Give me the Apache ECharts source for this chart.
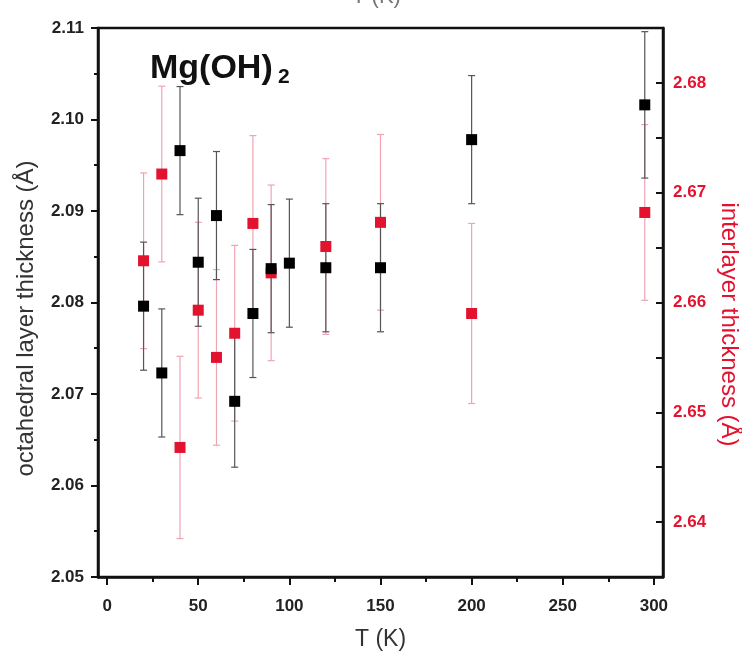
<!DOCTYPE html>
<html>
<head>
<meta charset="utf-8">
<script src="https://cdn.jsdelivr.net/npm/echarts@6/dist/echarts.min.js"></script>
<style>
html,body{margin:0;padding:0;background:#fff;}
#chart{width:742px;height:654px;}
</style>
</head>
<body>
<div id="chart"></div>
<script>
// ---- data ----
const octaT = [20, 30, 40, 50, 60, 70, 80, 90, 100, 120, 150, 200, 295];
const octaThickness = [2.0796, 2.0723, 2.0966, 2.0844, 2.0895, 2.0692, 2.0788, 2.0837, 2.0843, 2.0838, 2.0838, 2.0978, 2.1016];
const octaError = [0.007, 0.007, 0.007, 0.007, 0.007, 0.0072, 0.007, 0.007, 0.007, 0.007, 0.007, 0.007, 0.008];

const interT = [20, 30, 40, 50, 60, 70, 80, 90, 120, 150, 200, 295];
const interThickness = [2.6638, 2.6717, 2.6468, 2.6593, 2.655, 2.6572, 2.6672, 2.6627, 2.6651, 2.6673, 2.659, 2.6682];
const interError = [0.008, 0.008, 0.0083, 0.008, 0.008, 0.008, 0.008, 0.008, 0.008, 0.008, 0.0082, 0.008];

const xTickLabels = [0, 50, 100, 150, 200, 250, 300];
const xMinorTicks = [25, 75, 125, 175, 225, 275];
const leftTickLabels = [2.05, 2.06, 2.07, 2.08, 2.09, 2.10, 2.11];
const leftMinorTicks = [2.055, 2.065, 2.075, 2.085, 2.095, 2.105];
const rightTickLabels = [2.64, 2.65, 2.66, 2.67, 2.68];
const rightTicks = [2.64, 2.645, 2.65, 2.655, 2.66, 2.665, 2.67, 2.675, 2.68];

const FONT = 'Liberation Sans, Arial, sans-serif';
const RED = '#e3122f';

const chart = echarts.init(document.getElementById('chart'), null, {renderer: 'canvas'});

function errorSeries(name, xs, ys, errs, yAxisIndex, color) {
  return {
    name: name,
    type: 'custom',
    xAxisIndex: 0,
    yAxisIndex: yAxisIndex,
    clip: true,
    z: 2,
    silent: true,
    data: xs.map((x, i) => [x, ys[i] - errs[i], ys[i] + errs[i]]),
    encode: {x: 0, y: [1, 2]},
    renderItem: function (params, api) {
      const x = api.value(0);
      const lo = api.coord([x, api.value(1)]);
      const hi = api.coord([x, api.value(2)]);
      const w = 3.5;
      const st = {stroke: color, lineWidth: 1.2};
      return {
        type: 'group',
        children: [
          {type: 'line', shape: {x1: lo[0], y1: lo[1], x2: hi[0], y2: hi[1]}, style: st},
          {type: 'line', shape: {x1: lo[0] - w, y1: lo[1], x2: lo[0] + w, y2: lo[1]}, style: st},
          {type: 'line', shape: {x1: hi[0] - w, y1: hi[1], x2: hi[0] + w, y2: hi[1]}, style: st}
        ]
      };
    }
  };
}

const option = {
  backgroundColor: '#fff',
  animation: false,
  grid: {left: 98, right: 79, top: 28, bottom: 77, containLabel: false, outerBoundsMode: 'none',
         show: true, borderColor: '#111', borderWidth: 2.5, backgroundColor: 'transparent'},
  xAxis: [
    {
      type: 'value', min: -5, max: 305, position: 'bottom',
      name: 'T (K)', nameLocation: 'middle', nameGap: 51,
      nameTextStyle: {fontFamily: FONT, fontSize: 23, color: '#333'},
      axisLine: {show: true, onZero: false, lineStyle: {color: '#111', width: 2.5}},
      axisTick: {show: true, inside: false, length: 8, lineStyle: {color: '#111', width: 2}, customValues: xTickLabels},
      axisLabel: {show: true, margin: 21, fontFamily: FONT, fontSize: 17, fontWeight: 'bold', color: '#222', customValues: xTickLabels},
      splitLine: {show: false}
    },
    {
      type: 'value', min: -5, max: 305, position: 'bottom', gridIndex: 0,
      axisLine: {show: false, onZero: false},
      axisTick: {show: true, inside: false, length: 5, lineStyle: {color: '#111', width: 2}, customValues: xMinorTicks},
      axisLabel: {show: false},
      splitLine: {show: false}
    }
  ],
  yAxis: [
    {
      type: 'value', min: 2.05, max: 2.11, position: 'left',
      name: 'octahedral layer thickness (Å)', nameLocation: 'middle', nameGap: 60,
      nameTextStyle: {fontFamily: FONT, fontSize: 24, color: '#333', padding: [0, 32, 0, 0]},
      axisLine: {show: true, onZero: false, lineStyle: {color: '#111', width: 2.5}},
      axisTick: {show: true, inside: false, length: 7, lineStyle: {color: '#111', width: 2}, customValues: leftTickLabels},
      axisLabel: {margin: 14, fontFamily: FONT, fontSize: 17, fontWeight: 'bold', color: '#222', customValues: leftTickLabels, formatter: v => v.toFixed(2)},
      splitLine: {show: false}
    },
    {
      type: 'value', min: 2.635, max: 2.685, position: 'right',
      name: 'interlayer thickness (Å)', nameLocation: 'middle', nameGap: 52, nameRotate: -90,
      nameTextStyle: {fontFamily: FONT, fontSize: 24, color: RED, padding: [0, 0, 0, 44]},
      axisLine: {show: true, onZero: false, lineStyle: {color: '#111', width: 2.5}},
      axisTick: {show: true, inside: true, length: 7, lineStyle: {color: '#111', width: 2}, customValues: rightTicks},
      axisLabel: {show: true, margin: 10, fontFamily: FONT, fontSize: 17, fontWeight: 'bold', color: RED, customValues: rightTickLabels, formatter: v => v.toFixed(2)},
      splitLine: {show: false}
    },
    {
      type: 'value', min: 2.05, max: 2.11, position: 'left', gridIndex: 0,
      axisLine: {show: false, onZero: false},
      axisTick: {show: true, inside: false, length: 4, lineStyle: {color: '#111', width: 2}, customValues: leftMinorTicks},
      axisLabel: {show: false},
      splitLine: {show: false}
    }
  ],
  series: [
    errorSeries('interlayer error', interT, interThickness, interError, 1, '#f1a3b2'),
    errorSeries('octahedral error', octaT, octaThickness, octaError, 0, '#555'),
    {
      name: 'interlayer thickness', type: 'scatter', xAxisIndex: 0, yAxisIndex: 1, z: 3,
      symbol: 'rect', symbolSize: 11,
      itemStyle: {color: RED, opacity: 1},
      data: interT.map((t, i) => [t, interThickness[i]])
    },
    {
      name: 'octahedral layer thickness', type: 'scatter', xAxisIndex: 0, yAxisIndex: 0, z: 4,
      symbol: 'rect', symbolSize: 11,
      itemStyle: {color: '#000', opacity: 1},
      data: octaT.map((t, i) => [t, octaThickness[i]])
    }
  ],
  graphic: [
    {type: 'text', left: 150, top: 52, z: 10,
     style: {text: 'Mg(OH)', font: 'bold 34px ' + FONT, fill: '#111'}},
    {type: 'text', left: 278, top: 67, z: 10,
     style: {text: '2', font: 'bold 21px ' + FONT, fill: '#111'}},
    {type: 'text', left: 352, top: -14, z: 10,
     style: {text: 'T (K)', font: '22px ' + FONT, fill: '#777'}}
  ]
};

chart.setOption(option);
</script>
</body>
</html>
